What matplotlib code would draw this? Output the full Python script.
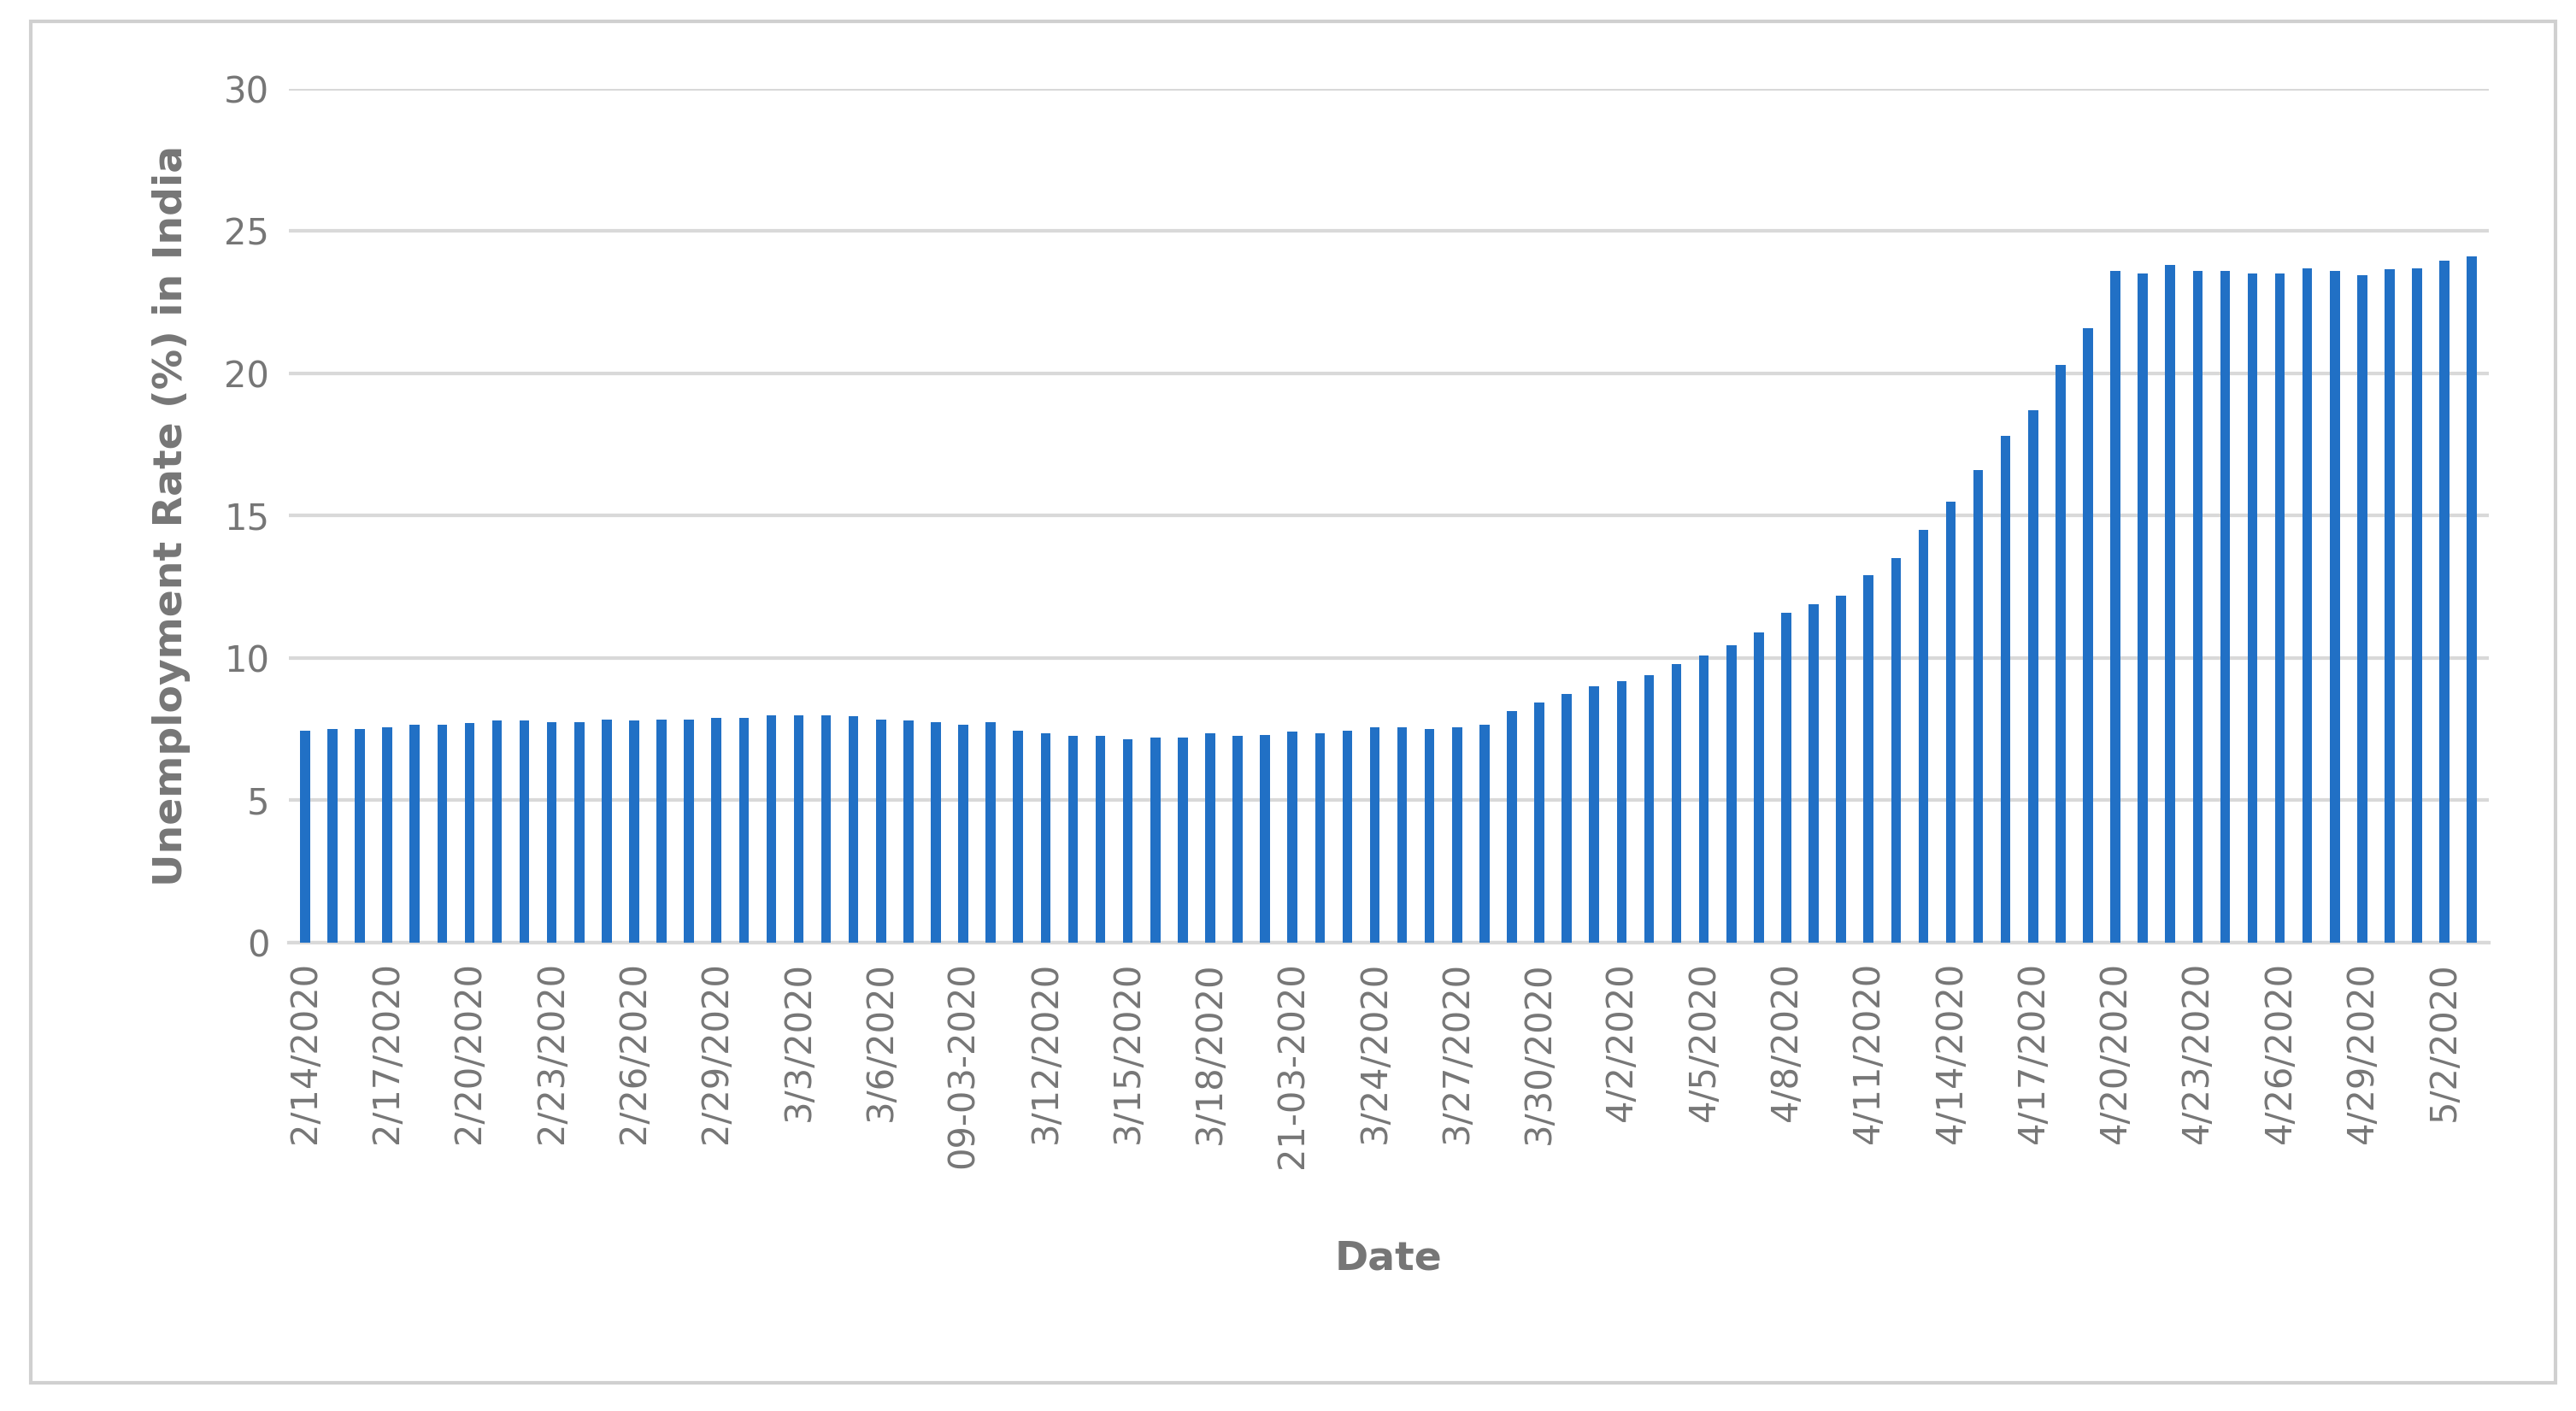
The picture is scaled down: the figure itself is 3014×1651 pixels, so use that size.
import matplotlib
matplotlib.use("Agg")
import matplotlib.pyplot as plt
from matplotlib.patches import Rectangle
import datetime as dt

start = dt.date(2020, 2, 14)
dates = [start + dt.timedelta(days=i) for i in range(80)]
def fmt(d):
    if d in (dt.date(2020, 3, 9), dt.date(2020, 3, 21)):
        return d.strftime("%d-%m-%Y")
    return f"{d.month}/{d.day}/{d.year}"
categories = [fmt(d) for d in dates]

values = [7.44, 7.5, 7.5, 7.55, 7.65, 7.65, 7.7, 7.8, 7.8, 7.75,
          7.75, 7.85, 7.8, 7.85, 7.85, 7.9, 7.9, 8.0, 8.0, 8.0,
          7.95, 7.85, 7.8, 7.75, 7.65, 7.75, 7.45, 7.35, 7.25, 7.25,
          7.15, 7.2, 7.2, 7.35, 7.25, 7.3, 7.4, 7.35, 7.45, 7.55,
          7.55, 7.5, 7.55, 7.65, 8.15, 8.45, 8.75, 9.0, 9.2, 9.4,
          9.8, 10.1, 10.45, 10.9, 11.6, 11.9, 12.2, 12.9, 13.5, 14.5,
          15.5, 16.6, 17.8, 18.7, 20.3, 21.6, 23.6, 23.5, 23.8, 23.6,
          23.6, 23.5, 23.5, 23.7, 23.6, 23.45, 23.65, 23.7, 23.95, 24.1]

gray = "#767676"
fig = plt.figure(figsize=(15.07, 8.255), dpi=200)
fig.patches.append(Rectangle((0.012, 0.02), 0.98, 0.965, transform=fig.transFigure,
                             fill=False, edgecolor="#d0d0d0", linewidth=1.5))
ax = fig.add_axes([0.112, 0.332, 0.854, 0.605])
x = list(range(len(values)))
ax.bar(x, values, width=0.36, color="#2170C5", zorder=3)
ax.set_ylim(0, 30)
ax.set_yticks([0, 5, 10, 15, 20, 25, 30])
ax.set_xlim(-0.6, len(values) - 0.4)
ax.set_xticks(x[::3])
ax.set_xticklabels(categories[::3], rotation=90)
ax.grid(axis="y", color="#d9d9d9", linewidth=1.5, zorder=0)
for s in ["top", "right", "left"]:
    ax.spines[s].set_visible(False)
ax.spines["bottom"].set_color("#d9d9d9")
ax.spines["bottom"].set_linewidth(1.5)
ax.tick_params(axis="both", length=0, labelsize=15, colors=gray, pad=8)
ax.set_ylabel("Unemployment Rate (%) in India", fontsize=17, fontweight="bold", color=gray, labelpad=14)
ax.set_xlabel("Date", fontsize=17, fontweight="bold", color=gray, labelpad=30)
fig.savefig("out.png", dpi=200)
